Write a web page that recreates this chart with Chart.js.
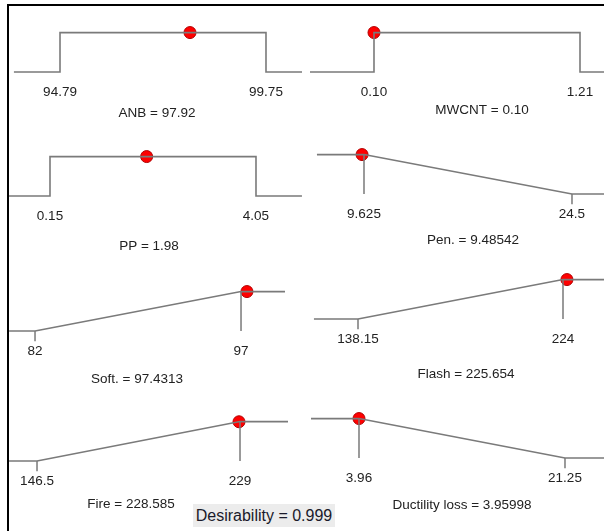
<!DOCTYPE html>
<html>
<head>
<meta charset="utf-8">
<script src="https://cdn.jsdelivr.net/npm/chart.js@4.4.1/dist/chart.umd.min.js"></script>
<style>
  body { margin: 0; background: #fff; }
  #wrap { position: relative; width: 604px; height: 531px; overflow: hidden; font-family: "Liberation Sans", Arial, sans-serif; }
  #wrap canvas { position: absolute; }
  .rule { position: absolute; background: #000; z-index: 5; }
  #desir { position: absolute; left: 193px; top: 504px; width: 142px; height: 23px; line-height: 23px;
           background: #ececec; color: #1a1a2a; font-size: 16px; text-align: center; z-index: 5; }
</style>
</head>
<body>
<div id="wrap">
  <div class="rule" style="left:7px;top:4px;width:597px;height:2px"></div>
  <div class="rule" style="left:7px;top:4px;width:2px;height:527px"></div>
  <div id="desir"></div>
</div>
<script>
// factors and responses, in panel order
const names = ['ANB', 'MWCNT', 'PP', 'Pen.', 'Soft.', 'Flash', 'Fire', 'Ductility loss'];
const goals = ['range', 'range', 'range', 'min', 'max', 'max', 'max', 'min'];
const lowLimits = [94.79, 0.10, 0.15, 9.625, 82, 138.15, 146.5, 3.96];
const highLimits = [99.75, 1.21, 4.05, 24.5, 97, 224, 229, 21.25];
const lowLabels = ['94.79', '0.10', '0.15', '9.625', '82', '138.15', '146.5', '3.96'];
const highLabels = ['99.75', '1.21', '4.05', '24.5', '97', '224', '229', '21.25'];
const solution = [97.92, 0.10, 1.98, 9.48542, 97.4313, 225.654, 228.585, 3.95998];
const solutionText = ['97.92', '0.10', '1.98', '9.48542', '97.4313', '225.654', '228.585', '3.95998'];
const desirability = 0.999;

// extent of each ramp line and of each x axis
const lineFrom = [93.68, -0.245, -0.626, 6.26, 80.11, 119.7, 135.12, -0.07];
const lineTo = [100.62, 1.34, 4.92, 26.79, 100.2, 241.2, 248.5, 24.53];
const axisMin = [93.345, -0.2987, -0.7966, 5.048, 79.45, 113.86, 131.46, -0.992];
const axisMax = [100.617, 1.3393, 4.921, 26.789, 101.44, 241.17, 254.19, 24.524];

// layout: canvas origin and title anchor (canvas relative)
const panelPos = [[0, 5], [300, 5], [0, 129], [300, 127], [0, 264], [300, 252], [0, 394], [300, 391]];
const titlePos = [[157, 108], [182, 105], [149, 117], [173, 113], [137, 115], [166, 122], [131, 110], [162, 114]];

const LINE = '#7a7a7a';
const FONT = '13.5px "Liberation Sans", Arial, sans-serif';

function desire(i, v) {
  const lo = lowLimits[i], hi = highLimits[i];
  if (goals[i] === 'range') return (v >= lo && v <= hi) ? 1 : 0;
  let t = (v - lo) / (hi - lo);
  t = Math.max(0, Math.min(1, t));
  return goals[i] === 'max' ? t : 1 - t;
}

function rampPoints(i) {
  const lo = lowLimits[i], hi = highLimits[i], a = lineFrom[i], b = lineTo[i];
  if (goals[i] === 'range') return [{x: a, y: 0}, {x: lo, y: 0}, {x: lo, y: 1}, {x: hi, y: 1}, {x: hi, y: 0}, {x: b, y: 0}];
  if (goals[i] === 'min') return [{x: a, y: 1}, {x: lo, y: 1}, {x: hi, y: 0}, {x: b, y: 0}];
  return [{x: a, y: 0}, {x: lo, y: 0}, {x: hi, y: 1}, {x: b, y: 1}];
}

function markerPoints(i) {
  if (goals[i] === 'range') return [];
  const lim = goals[i] === 'min' ? lowLimits[i] : highLimits[i];
  const other = goals[i] === 'min' ? highLimits[i] : lowLimits[i];
  return [{x: lim, y: 1}, {x: lim, y: 0}, {x: lim, y: null}, {x: other, y: 0}, {x: other, y: -0.26}];
}

const textPlugin = {
  id: 'rampText',
  afterDraw(chart) {
    const i = chart.options.plugins.rampText.index;
    const ctx = chart.ctx, xs = chart.scales.x, ys = chart.scales.y;
    const base = ys.getPixelForValue(0);
    ctx.save();
    ctx.font = FONT;
    ctx.fillStyle = '#222';
    ctx.textAlign = 'center';
    ctx.textBaseline = 'middle';
    ctx.fillText(lowLabels[i], xs.getPixelForValue(lowLimits[i]), base + 20);
    ctx.fillText(highLabels[i], xs.getPixelForValue(highLimits[i]), base + 20);
    ctx.fillText(names[i] + ' = ' + solutionText[i], titlePos[i][0], titlePos[i][1]);
    ctx.restore();
  }
};

const wrap = document.getElementById('wrap');
names.forEach((name, i) => {
  const cv = document.createElement('canvas');
  const w = panelPos[i][0] === 0 ? 302 : 304;
  cv.width = w; cv.height = 130;
  cv.style.left = panelPos[i][0] + 'px';
  cv.style.top = panelPos[i][1] + 'px';
  wrap.appendChild(cv);

  new Chart(cv, {
    type: 'line',
    data: {
      datasets: [
        {
          data: markerPoints(i),
          borderColor: LINE,
          borderWidth: 1.5,
          pointRadius: 0,
          spanGaps: false
        },
        {
          data: rampPoints(i),
          borderColor: LINE,
          borderWidth: 1.6,
          pointRadius: 0,
          tension: 0
        },
        {
          data: [{x: solution[i], y: desire(i, solution[i])}],
          showLine: false,
          pointRadius: 6,
          pointBackgroundColor: '#ff0000',
          pointBorderColor: '#b00000',
          pointBorderWidth: 1
        }
      ]
    },
    options: {
      responsive: false,
      animation: false,
      devicePixelRatio: 1,
      layout: { padding: 0, autoPadding: false },
      plugins: { legend: { display: false }, tooltip: { enabled: false }, rampText: { index: i } },
      scales: {
        x: { type: 'linear', display: false, min: axisMin[i], max: axisMax[i] },
        y: { type: 'linear', display: false, min: -1.6, max: 1.7 }
      }
    },
    plugins: [textPlugin]
  });
});

document.getElementById('desir').textContent = 'Desirability = ' + desirability.toFixed(3);
</script>
</body>
</html>
